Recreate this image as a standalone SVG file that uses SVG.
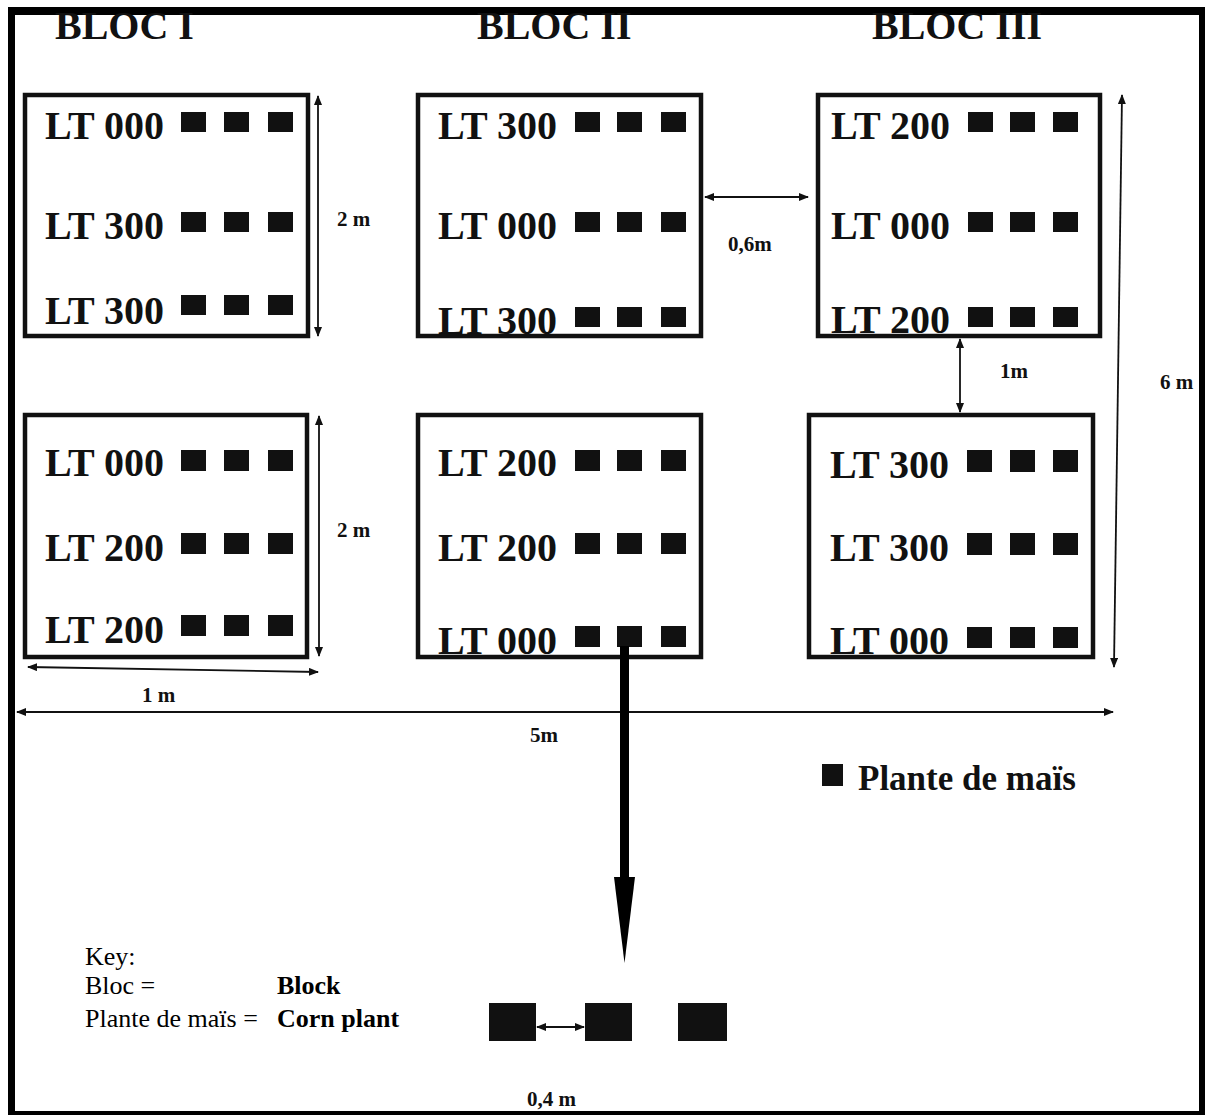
<svg xmlns="http://www.w3.org/2000/svg" width="1206" height="1115" viewBox="0 0 1206 1115">
<style>
.box{fill:none;stroke:#111;stroke-width:4.5}
.lt{font-family:"Liberation Serif","Times New Roman",serif;font-weight:bold;font-size:40px;fill:#111}
.ttl{font-family:"Liberation Serif","Times New Roman",serif;font-weight:bold;font-size:40px;fill:#111}
.dim{font-family:"Liberation Serif","Times New Roman",serif;font-weight:bold;font-size:21px;fill:#111}
.key{font-family:"Liberation Serif","Times New Roman",serif;font-size:26px;fill:#000}
.keyb{font-family:"Liberation Serif","Times New Roman",serif;font-weight:bold;font-size:26px;fill:#000}
.pl{fill:#111}
.dl{stroke:#111;stroke-width:1.8;fill:none;marker-start:url(#ah);marker-end:url(#ah)}
</style>
<defs>
<marker id="ah" viewBox="0 0 10 8" refX="9" refY="4" markerWidth="10" markerHeight="8" markerUnits="userSpaceOnUse" orient="auto-start-reverse">
<path d="M0,0 L10,4 L0,8 Z" fill="#111"/>
</marker>
</defs>
<rect width="1206" height="1115" fill="#fff"/>
<g id="frame" fill="#000">
<rect x="8" y="7" width="1197" height="8"/>
<rect x="8" y="7" width="7" height="1108"/>
<rect x="1199" y="7" width="6" height="1108"/>
<rect x="8" y="1111" width="1197" height="4"/>
</g>
<text class="ttl" x="55" y="39">BLOC I</text>
<text class="ttl" x="477" y="39">BLOC II</text>
<text class="ttl" x="872" y="39">BLOC III</text>

<g id="bloc1-plot1">
<text class="lt" x="45" y="139">LT 000</text>
<text class="lt" x="45" y="239">LT 300</text>
<text class="lt" x="45" y="324">LT 300</text>
<g class="pl">
<rect x="181" y="112" width="25" height="20"/><rect x="224" y="112" width="25" height="20"/><rect x="268" y="112" width="25" height="20"/>
<rect x="181" y="212" width="25" height="20"/><rect x="224" y="212" width="25" height="20"/><rect x="268" y="212" width="25" height="20"/>
<rect x="181" y="295" width="25" height="20"/><rect x="224" y="295" width="25" height="20"/><rect x="268" y="295" width="25" height="20"/>
</g>
<rect class="box" x="25" y="95" width="283" height="241"/>
</g>

<g id="bloc1-plot2">
<text class="lt" x="45" y="476">LT 000</text>
<text class="lt" x="45" y="561">LT 200</text>
<text class="lt" x="45" y="643">LT 200</text>
<g class="pl">
<rect x="181" y="450" width="25" height="21"/><rect x="224" y="450" width="25" height="21"/><rect x="268" y="450" width="25" height="21"/>
<rect x="181" y="533" width="25" height="21"/><rect x="224" y="533" width="25" height="21"/><rect x="268" y="533" width="25" height="21"/>
<rect x="181" y="615" width="25" height="21"/><rect x="224" y="615" width="25" height="21"/><rect x="268" y="615" width="25" height="21"/>
</g>
<rect class="box" x="25" y="415" width="282" height="242"/>
</g>

<g id="bloc2-plot1">
<text class="lt" x="438" y="139">LT 300</text>
<text class="lt" x="438" y="239">LT 000</text>
<text class="lt" x="438" y="334">LT 300</text>
<g class="pl">
<rect x="575" y="112" width="25" height="20"/><rect x="617" y="112" width="25" height="20"/><rect x="661" y="112" width="25" height="20"/>
<rect x="575" y="212" width="25" height="20"/><rect x="617" y="212" width="25" height="20"/><rect x="661" y="212" width="25" height="20"/>
<rect x="575" y="307" width="25" height="20"/><rect x="617" y="307" width="25" height="20"/><rect x="661" y="307" width="25" height="20"/>
</g>
<rect class="box" x="418" y="95" width="283" height="241"/>
</g>

<g id="bloc2-plot2">
<text class="lt" x="438" y="476">LT 200</text>
<text class="lt" x="438" y="561">LT 200</text>
<text class="lt" x="438" y="654">LT 000</text>
<g class="pl">
<rect x="575" y="450" width="25" height="21"/><rect x="617" y="450" width="25" height="21"/><rect x="661" y="450" width="25" height="21"/>
<rect x="575" y="533" width="25" height="21"/><rect x="617" y="533" width="25" height="21"/><rect x="661" y="533" width="25" height="21"/>
<rect x="575" y="626" width="25" height="21"/><rect x="617" y="626" width="25" height="21"/><rect x="661" y="626" width="25" height="21"/>
</g>
<rect class="box" x="418" y="415" width="283" height="242"/>
</g>

<g id="bloc3-plot1">
<text class="lt" x="831" y="139">LT 200</text>
<text class="lt" x="831" y="239">LT 000</text>
<text class="lt" x="831" y="333">LT 200</text>
<g class="pl">
<rect x="968" y="112" width="25" height="20"/><rect x="1010" y="112" width="25" height="20"/><rect x="1053" y="112" width="25" height="20"/>
<rect x="968" y="212" width="25" height="20"/><rect x="1010" y="212" width="25" height="20"/><rect x="1053" y="212" width="25" height="20"/>
<rect x="968" y="307" width="25" height="20"/><rect x="1010" y="307" width="25" height="20"/><rect x="1053" y="307" width="25" height="20"/>
</g>
<rect class="box" x="818" y="95" width="282" height="241"/>
</g>

<g id="bloc3-plot2">
<text class="lt" x="830" y="478">LT 300</text>
<text class="lt" x="830" y="561">LT 300</text>
<text class="lt" x="830" y="654">LT 000</text>
<g class="pl">
<rect x="967" y="450" width="25" height="22"/><rect x="1010" y="450" width="25" height="22"/><rect x="1053" y="450" width="25" height="22"/>
<rect x="967" y="533" width="25" height="22"/><rect x="1010" y="533" width="25" height="22"/><rect x="1053" y="533" width="25" height="22"/>
<rect x="967" y="627" width="25" height="21"/><rect x="1010" y="627" width="25" height="21"/><rect x="1053" y="627" width="25" height="21"/>
</g>
<rect class="box" x="809" y="415" width="284" height="242"/>
</g>

<g id="connectors">
<line class="dl" x1="318" y1="96" x2="318" y2="336"/>
<line class="dl" x1="319" y1="416" x2="319" y2="656"/>
<line class="dl" x1="28" y1="667" x2="318" y2="672"/>
<line class="dl" x1="17" y1="712" x2="1113" y2="712"/>
<line class="dl" x1="705" y1="197" x2="808" y2="197"/>
<line class="dl" x1="960" y1="339" x2="960" y2="412"/>
<line class="dl" x1="1122" y1="95" x2="1114" y2="667"/>
<line class="dl" x1="537" y1="1027" x2="584" y2="1027"/>
<rect x="620" y="646" width="9" height="232" fill="#000"/>
<path d="M614,877 L635,877 L624.5,963 Z" fill="#000"/>
</g>

<g id="labels">
<text class="dim" x="337" y="226">2 m</text>
<text class="dim" x="337" y="537">2 m</text>
<text class="dim" x="142" y="702">1 m</text>
<text class="dim" x="530" y="742">5m</text>
<text class="dim" x="728" y="251">0,6m</text>
<text class="dim" x="1000" y="378">1m</text>
<text class="dim" x="1160" y="389">6 m</text>
<text class="dim" x="527" y="1106">0,4 m</text>
</g>

<g id="legend">
<rect x="822" y="764" width="21" height="22" fill="#111"/>
<text class="ttl" x="858" y="790" style="font-size:35px">Plante de maïs</text>
</g>

<g id="detail">
<rect x="489" y="1003" width="47" height="38" fill="#111"/>
<rect x="585" y="1003" width="47" height="38" fill="#111"/>
<rect x="678" y="1003" width="49" height="38" fill="#111"/>
</g>

<g id="key">
<text class="key" x="85" y="965">Key:</text>
<text class="key" x="85" y="994">Bloc =</text>
<text class="key" x="85" y="1027">Plante de maïs =</text>
<text class="keyb" x="277" y="994">Block</text>
<text class="keyb" x="277" y="1027">Corn plant</text>
</g>
</svg>
